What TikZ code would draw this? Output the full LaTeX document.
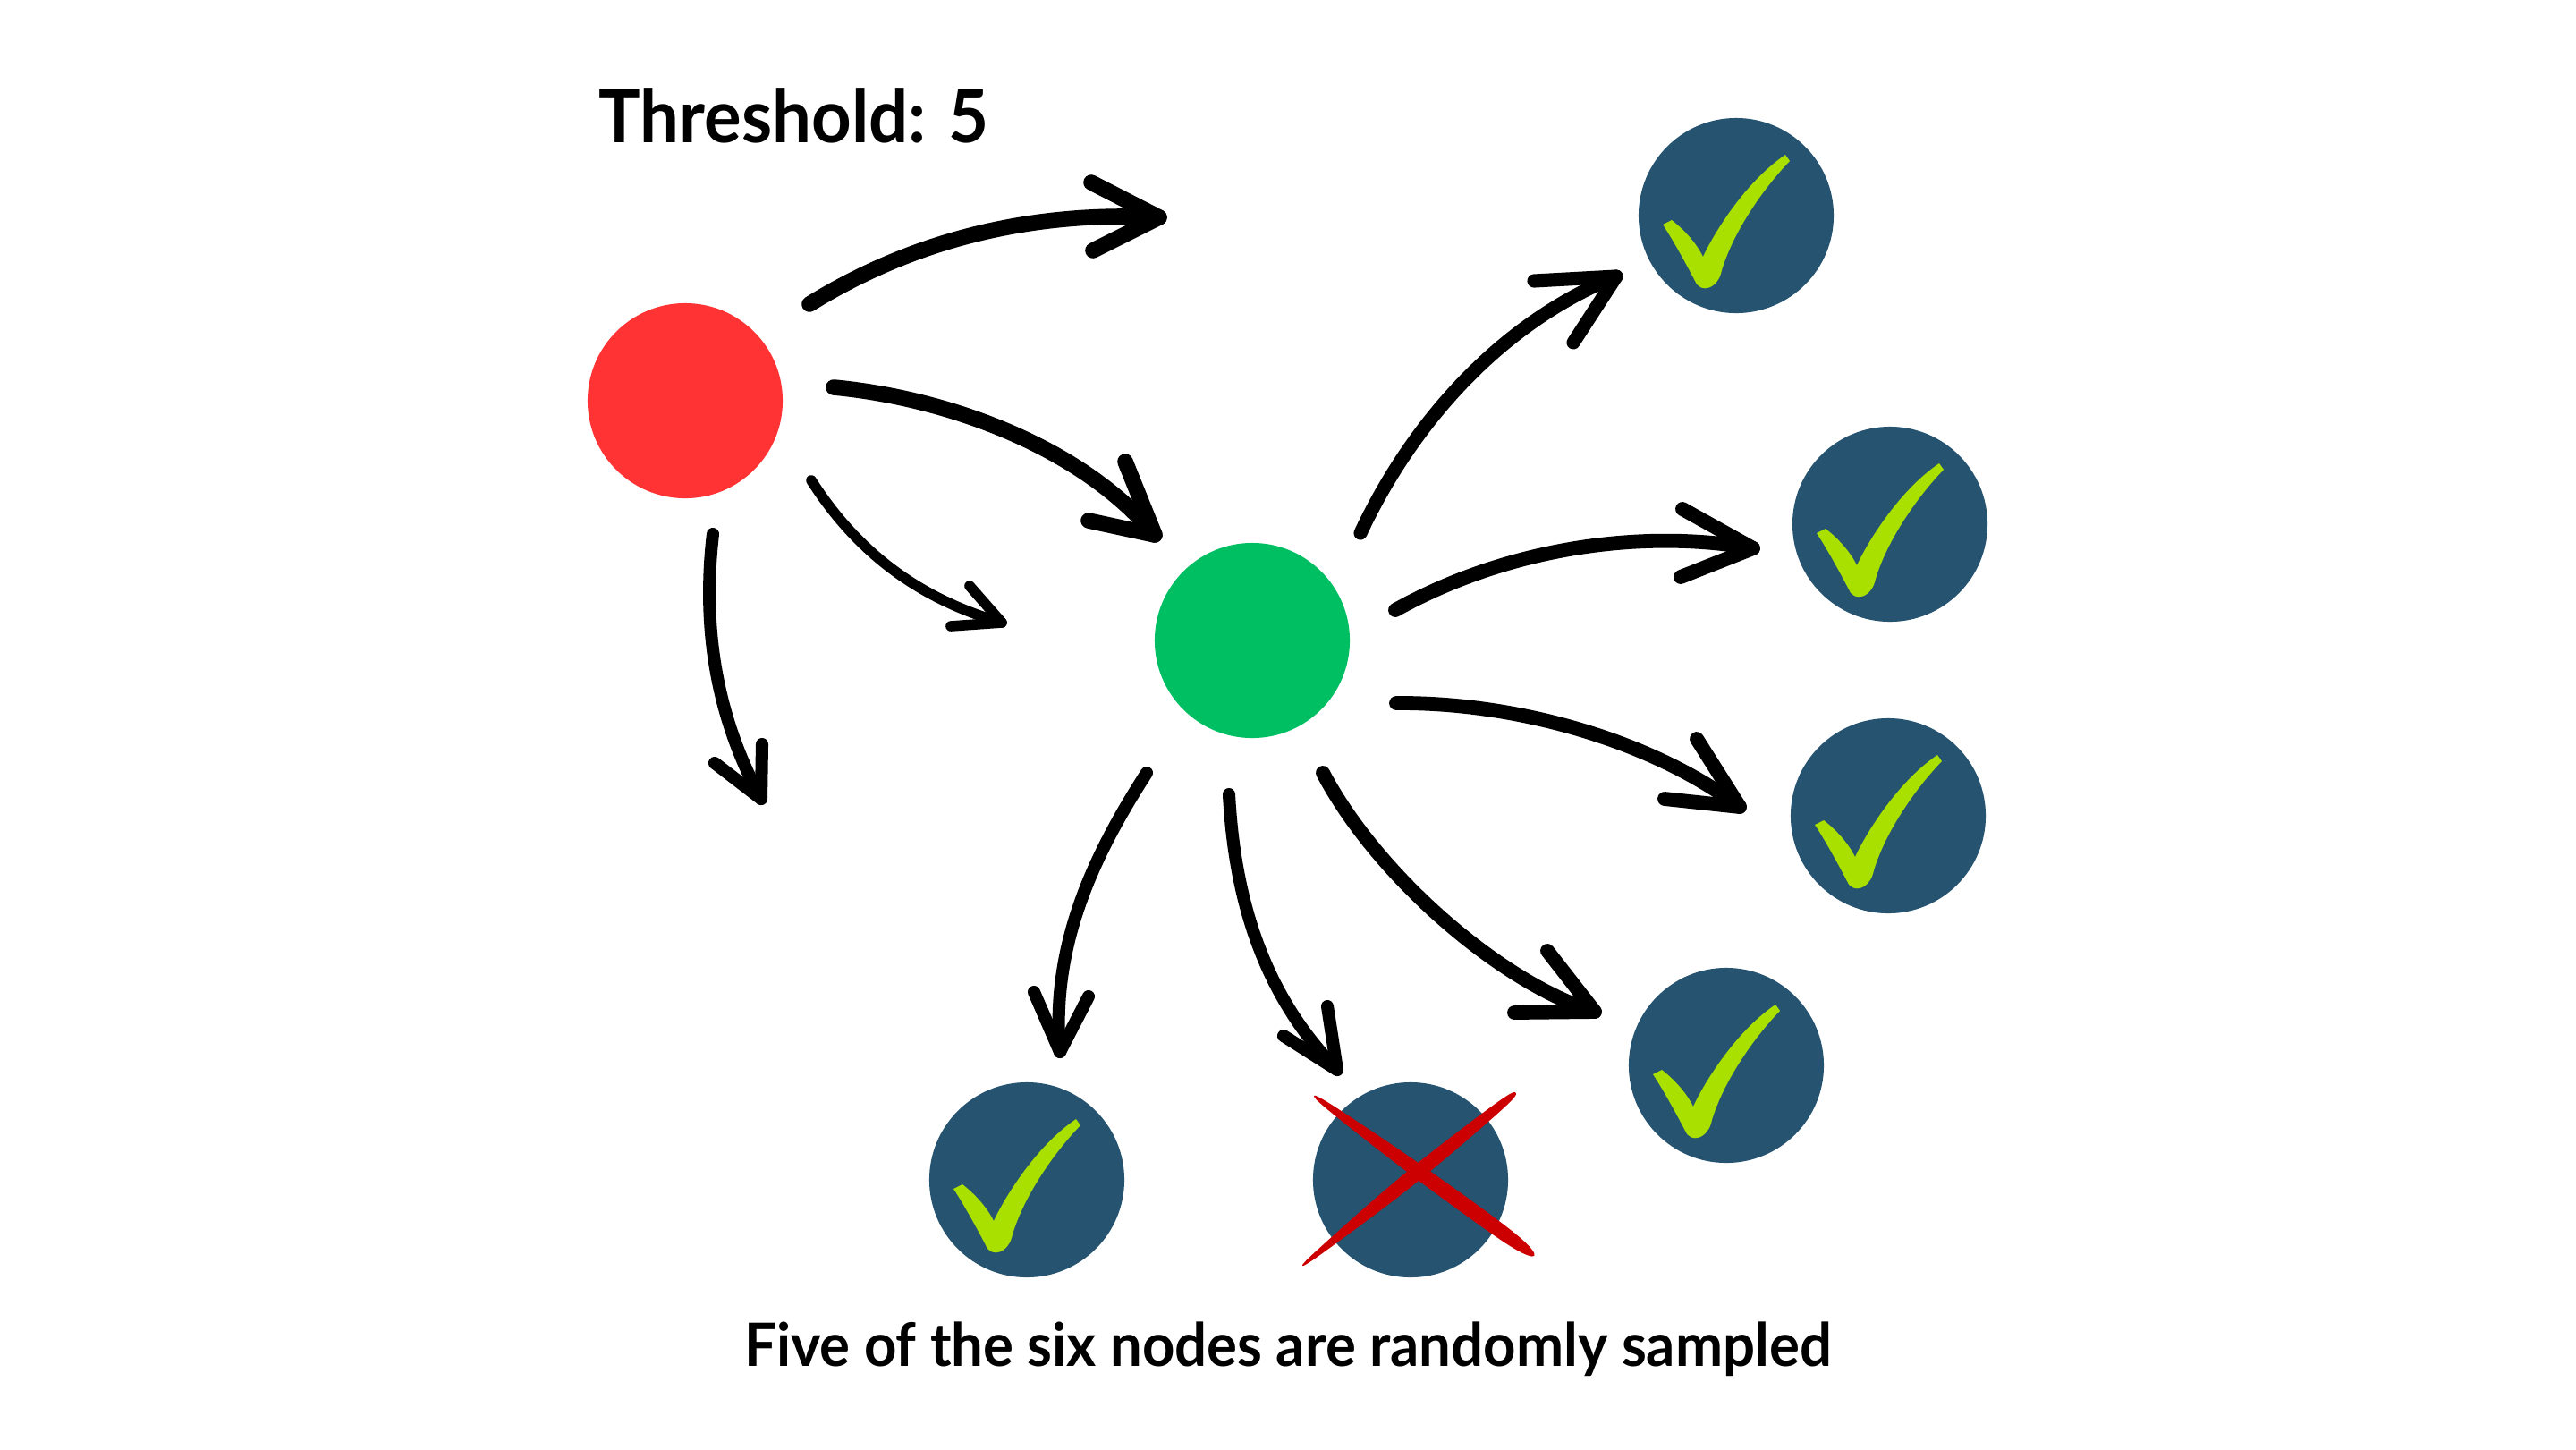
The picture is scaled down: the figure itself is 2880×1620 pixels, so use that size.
\documentclass[tikz,border=0pt]{standalone}
\usepackage{fontspec}
\usepackage{graphicx}
\newfontfamily\lato{Lato}
\definecolor{nodered}{RGB}{255,51,51}
\definecolor{nodegreen}{RGB}{0,191,99}
\definecolor{nodeblue}{RGB}{37,83,112}
\definecolor{ticklime}{RGB}{170,224,0}
\definecolor{crossred}{RGB}{204,0,0}
\newcommand\harrow[8]{%
  \coordinate (#1s) at (#2);
  \coordinate (#1t) at (#5);
  \draw[shaft=#8] (#1s) .. controls (#3) and (#4) .. (#1t);
  \draw[shaft=#8] (#6) -- (#1t) -- (#7);}
\newcommand\tickmark[1]{%
  \begin{scope}[shift={(#1.center)}]
  \fill[ticklime] (-82,10) -- (-72,5) .. controls (-58,16) and (-45,30) .. (-37,46)
    .. controls (-27,24) and (8,-36) .. (55,-68) -- (60,-61)
    .. controls (30,-30) and (-3,18) .. (-16,61)
    .. controls (-20,82) and (-40,88) .. (-46,73)
    .. controls (-58,50) and (-72,25) .. cycle;
  \end{scope}}
\begin{document}
\begin{tikzpicture}[x=0.01cm,y=-0.01cm,
  shaft/.style={line width=#1, line cap=round, line join=round, draw=black},
  shaft/.default=4.5pt,
  circ/.style={circle, minimum size=2.18cm, inner sep=0pt, draw=none},
  title/.style={inner sep=0pt, font=\lato\bfseries}]
\useasboundingbox (0,0) rectangle (2880,1620);
\fill[white] (0,0) rectangle (2880,1620);

% nodes
\node[circ, fill=nodered] (red) at (766,448) {};
\node[circ, fill=nodegreen] (green) at (1400,716) {};
\node[circ, fill=nodeblue] (b1) at (1941,241) {};
\node[circ, fill=nodeblue] (b2) at (2113,586) {};
\node[circ, fill=nodeblue] (b3) at (2111,912) {};
\node[circ, fill=nodeblue] (b4) at (1930,1191) {};
\node[circ, fill=nodeblue] (b5) at (1148,1319) {};
\node[circ, fill=nodeblue] (b6) at (1577,1319) {};

\tickmark{b1}
\tickmark{b2}
\tickmark{b3}
\tickmark{b4}
\tickmark{b5}

% cross on b6
\begin{scope}[shift={(b6.center)}]
\fill[crossred] plot[smooth cycle, tension=0.6] coordinates {
  (-108,-94) (-81.25,-79.54) (18.7,-11.97) (116,59.23) (138.4,84.8)
  (107.2,71.37) (9.3,0.97) (-85.95,-73.06)};
\fill[crossred] plot[smooth cycle, tension=0.6] coordinates {
  (117.6,-97.3) (93.89,-84.5) (-7.54,-6.22) (-99.5,74.08) (-121,96)
  (-95.1,79.52) (2.54,6.22) (100.19,-76.76)};
\end{scope}

% arrows from red
\harrow{a1}{905,340}{1010,275}{1140,235}{1296,243}{1220,204}{1222,280}{5pt}
\harrow{a2}{932,433}{1060,445}{1210,500}{1291,598}{1258,516}{1217,582}{5pt}
\harrow{a3}{907,537}{960,620}{1030,670}{1120,696}{1084,655}{1063,700}{3.3pt}
\harrow{a4}{797,597}{785,700}{800,800}{851,893}{799,853}{852,832}{4pt}
% arrows from green
\harrow{a5}{1521,596}{1580,470}{1680,360}{1807,309}{1715,314}{1759,383}{4.3pt}
\harrow{a6}{1560,682}{1680,615}{1830,590}{1960,613}{1881,569}{1879,645}{4.5pt}
\harrow{a7}{1561,786}{1700,785}{1850,830}{1945,902}{1897,826}{1861,893}{4.5pt}
\harrow{a8}{1479,864}{1540,980}{1680,1100}{1783,1131}{1730,1063}{1693,1132}{4.5pt}
\harrow{a9}{1374,888}{1380,1000}{1410,1110}{1495,1196}{1484,1125}{1435,1158}{4pt}
\harrow{a10}{1282,864}{1220,960}{1175,1060}{1185,1176}{1156,1109}{1217,1114}{4pt}

% texts
\node[title, anchor=base west] (thr) at (669,159) {\scalebox{0.95}[1]{\fontsize{23.3}{28}\selectfont Threshold: 5}};
\node[title, anchor=base] (cap) at (1440,1527) {\scalebox{0.95}[1]{\fontsize{19}{23}\selectfont Five of the six nodes are randomly sampled}};
\end{tikzpicture}
\end{document}
